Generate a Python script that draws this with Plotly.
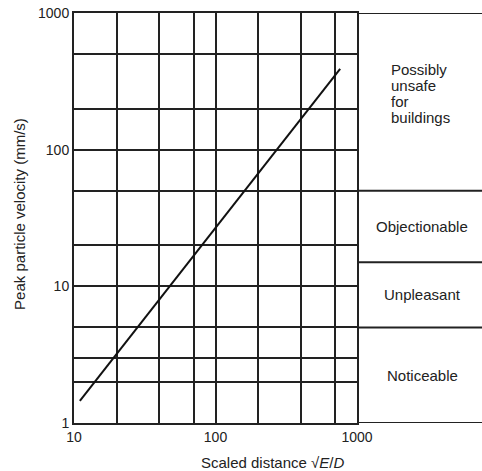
import math
import plotly.graph_objects as go

# Peak particle velocity against scaled distance (log-log)
x_line = [11, 760]
y_line = [1.45, 390]

# Axis labels and grid positions
x_ticks = [10, 100, 1000]
y_ticks = [1, 10, 100, 1000]
x_grid = [20, 40, 70, 200, 400, 700]
y_grid = [2, 3, 5, 20, 50, 200, 500]

# Human response zones drawn in the side panel
zone_bounds = [1, 5, 15, 50, 1000]
zone_names = ["Noticeable", "Unpleasant", "Objectionable",
              "Possibly\nunsafe\nfor\nbuildings"]

INK = "#222222"
FONT = "Liberation Sans, Arial, sans-serif"
TEXT_SIZE = 15
TICK_SIZE = 14

W, H = 482, 471
ML, MR, MT, MB = 74, 0, 13, 48
plot_w = W - ML - MR
plot_h = H - MT - MB
split = 283 / plot_w  # right edge of the log-log grid, in paper units

fig = go.Figure()
fig.add_trace(go.Scatter(
    x=x_line, y=y_line, mode="lines",
    line=dict(color="#111111", width=2),
    showlegend=False, hoverinfo="skip",
))

axis_common = dict(
    type="log",
    showline=True, mirror=True, linecolor=INK, linewidth=2,
    showgrid=True, gridcolor=INK, gridwidth=2,
    ticks="", zeroline=False, automargin=False,
    tickfont=dict(family=FONT, size=TICK_SIZE, color=INK),
)

fig.update_xaxes(
    **axis_common,
    domain=[0, split],
    range=[1, 3],
    tickmode="array", tickvals=x_ticks, ticktext=[str(v) for v in x_ticks],
    minor=dict(tickmode="array", tickvals=x_grid, showgrid=True,
               gridcolor=INK, gridwidth=2, ticks=""),
)
fig.update_yaxes(
    **axis_common,
    range=[0, 3],
    tickmode="array", tickvals=y_ticks, ticktext=[str(v) for v in y_ticks],
    minor=dict(tickmode="array", tickvals=y_grid, showgrid=True,
               gridcolor=INK, gridwidth=2, ticks=""),
)

# Zone boundaries across the side panel
for b in zone_bounds:
    fig.add_shape(type="line", xref="paper", yref="y",
                  x0=split, x1=1.0, y0=b, y1=b,
                  line=dict(color=INK, width=2))

# Zone labels, centred in each band; multi-line names are stacked
# line by line with a tight leading and left-aligned.
LEADING = 16  # px between stacked lines
for lo, hi, name in zip(zone_bounds[:-1], zone_bounds[1:], zone_names):
    mid = (math.log10(lo) + math.log10(hi)) / 2
    lines = name.split("\n")
    if len(lines) == 1:
        fig.add_annotation(
            xref="paper", yref="y",
            x=split + (1 - split) * 0.52, y=mid,
            text=name, showarrow=False,
            xanchor="center", yanchor="middle",
            font=dict(family=FONT, size=TEXT_SIZE, color=INK),
        )
    else:
        n = len(lines)
        for i, ln in enumerate(lines):
            fig.add_annotation(
                xref="paper", yref="y",
                x=(389 - ML) / plot_w, y=mid,
                yshift=((n - 1) / 2 - i) * LEADING + 8,
                text=ln, showarrow=False,
                xanchor="left", yanchor="middle",
                font=dict(family=FONT, size=TEXT_SIZE, color=INK),
            )

# Axis titles
fig.add_annotation(
    xref="paper", yref="paper", x=(20 - ML) / plot_w, y=0.51,
    text="Peak particle velocity (mm/s)", textangle=-90, showarrow=False,
    xanchor="center", yanchor="middle",
    font=dict(family=FONT, size=TEXT_SIZE, color=INK),
)
fig.add_annotation(
    xref="paper", yref="paper", x=(273 - ML) / plot_w, y=-39 / plot_h,
    text="Scaled distance √<i>E</i>/<i>D</i>", showarrow=False,
    xanchor="center", yanchor="middle",
    font=dict(family=FONT, size=TEXT_SIZE, color=INK),
)

fig.update_layout(
    width=W, height=H, autosize=False,
    margin=dict(l=ML, r=MR, t=MT, b=MB, pad=0, autoexpand=False),
    paper_bgcolor="white", plot_bgcolor="white",
    showlegend=False,
)

fig.write_html("out.html")
